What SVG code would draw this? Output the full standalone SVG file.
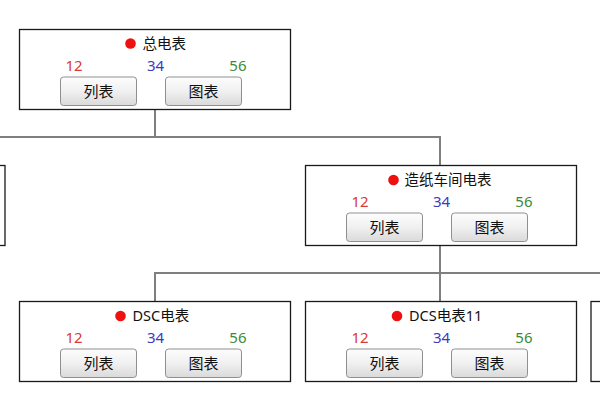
<svg xmlns="http://www.w3.org/2000/svg" width="600" height="400" viewBox="0 0 600 400">
<defs>
<linearGradient id="btn" x1="0" y1="0" x2="0" y2="1">
<stop offset="0" stop-color="#fdfdfd"/>
<stop offset="0.5" stop-color="#f0f0f0"/>
<stop offset="1" stop-color="#dadada"/>
</linearGradient>
<style>
.box{fill:#fff;stroke:#1a1a1a;stroke-width:1.3}
.dot{fill:#ee1111}
.t{font-family:"Noto Sans","Noto Sans CJK SC",sans-serif;font-size:14.5px;fill:#111}
.n{font-family:"Noto Sans","Noto Sans CJK SC",sans-serif;font-size:15px}
.r{fill:#d83a3a}.b{fill:#3a3ac0}.g{fill:#3a8a3a}
.btn{fill:url(#btn);stroke:#8f8f8f;stroke-width:1}
.bt{font-family:"Noto Sans","Noto Sans CJK SC",sans-serif;font-size:15px;fill:#111;text-anchor:middle}
.c{fill:none;stroke:#7f7f7f;stroke-width:2}
</style>
</defs>
<rect width="600" height="400" fill="#fff"/>
<g id="connectors">
<path class="c" d="M155 109 V137 M0 137 H440 V165"/>
<path class="c" d="M440 245 V273 M155 301 V273 H600 M440 273 V301"/>
</g>
<g id="node-left">
<rect class="box" x="-267" y="165.5" width="272" height="80"/>
</g>
<g id="node-right">
<rect class="box" x="591" y="301.5" width="272" height="80"/>
</g>
<g id="node-total" transform="translate(19.5,29.5)">
<rect class="box" x="0" y="0" width="271" height="80"/>
<circle class="dot" cx="111" cy="14" r="5.3"/>
<text class="t" x="123" y="19.5">总电表</text>
<text class="n r" x="46" y="41.5">12</text>
<text class="n b" x="136" y="41.5" text-anchor="middle">34</text>
<text class="n g" x="227" y="41.5" text-anchor="end">56</text>
<rect class="btn" x="41" y="47.5" width="76" height="28.5" rx="3"/>
<text class="bt" x="79" y="67.5">列表</text>
<rect class="btn" x="146" y="47.5" width="76" height="28.5" rx="3"/>
<text class="bt" x="184" y="67.5">图表</text>
</g>
<g id="node-workshop" transform="translate(305.5,165.5)">
<rect class="box" x="0" y="0" width="271" height="80"/>
<circle class="dot" cx="88" cy="14.5" r="5.3"/>
<text class="t" x="99" y="19.5">造纸车间电表</text>
<text class="n r" x="46" y="41.5">12</text>
<text class="n b" x="136" y="41.5" text-anchor="middle">34</text>
<text class="n g" x="227" y="41.5" text-anchor="end">56</text>
<rect class="btn" x="41" y="47.5" width="76" height="28.5" rx="3"/>
<text class="bt" x="79" y="67.5">列表</text>
<rect class="btn" x="146" y="47.5" width="76" height="28.5" rx="3"/>
<text class="bt" x="184" y="67.5">图表</text>
</g>
<g id="node-dsc" transform="translate(19.5,301.5)">
<rect class="box" x="0" y="0" width="271" height="80"/>
<circle class="dot" cx="101" cy="14.5" r="5.3"/>
<text class="t" x="113" y="19.5">DSC电表</text>
<text class="n r" x="46" y="41.5">12</text>
<text class="n b" x="136" y="41.5" text-anchor="middle">34</text>
<text class="n g" x="227" y="41.5" text-anchor="end">56</text>
<rect class="btn" x="41" y="47.5" width="76" height="28.5" rx="3"/>
<text class="bt" x="79" y="67.5">列表</text>
<rect class="btn" x="146" y="47.5" width="76" height="28.5" rx="3"/>
<text class="bt" x="184" y="67.5">图表</text>
</g>
<g id="node-dcs" transform="translate(305.5,301.5)">
<rect class="box" x="0" y="0" width="271" height="80"/>
<circle class="dot" cx="91.5" cy="14.5" r="5.3"/>
<text class="t" x="103.5" y="19.5">DCS电表11</text>
<text class="n r" x="46" y="41.5">12</text>
<text class="n b" x="136" y="41.5" text-anchor="middle">34</text>
<text class="n g" x="227" y="41.5" text-anchor="end">56</text>
<rect class="btn" x="41" y="47.5" width="76" height="28.5" rx="3"/>
<text class="bt" x="79" y="67.5">列表</text>
<rect class="btn" x="146" y="47.5" width="76" height="28.5" rx="3"/>
<text class="bt" x="184" y="67.5">图表</text>
</g>
</svg>
